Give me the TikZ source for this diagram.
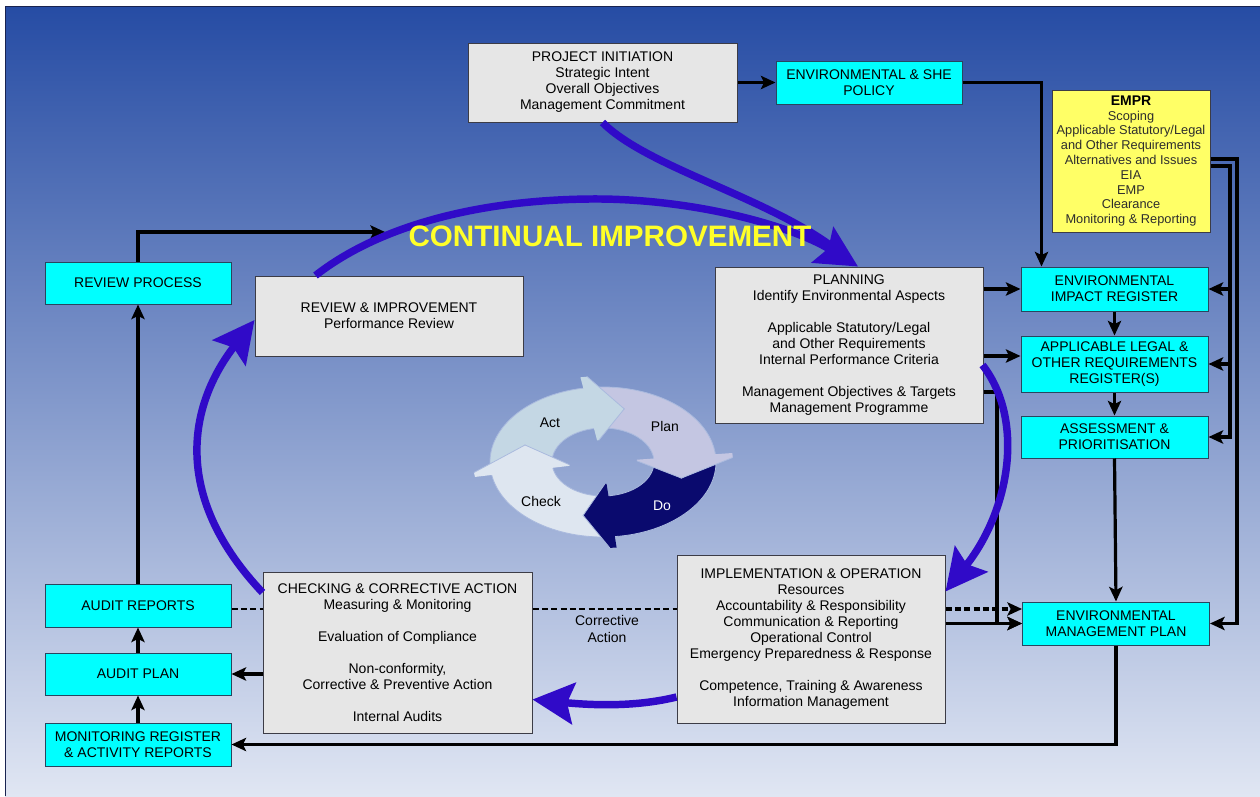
\documentclass[tikz,border=0pt]{standalone}
\usepackage{fontspec}
\setmainfont{Liberation Sans}
\usetikzlibrary{arrows.meta,calc}

\definecolor{bgtop}{RGB}{38,76,164}
\definecolor{bgmid}{RGB}{125,148,202}
\definecolor{bgbot}{RGB}{224,230,243}
\definecolor{boxgray}{RGB}{230,230,230}
\definecolor{boxline}{RGB}{60,60,70}
\definecolor{boxcyan}{RGB}{0,255,255}
\definecolor{cyanline}{RGB}{40,70,95}
\definecolor{emprfill}{RGB}{255,255,102}
\definecolor{emprtext}{RGB}{45,45,45}
\definecolor{cycblue}{RGB}{48,10,200}
\definecolor{ciyellow}{RGB}{255,255,40}
\definecolor{actcol}{RGB}{196,215,228}
\definecolor{plancol}{RGB}{196,198,226}
\definecolor{docol}{RGB}{10,10,110}
\definecolor{checkcol}{RGB}{222,230,240}
\definecolor{cycedge}{RGB}{170,186,222}

\tikzset{every picture/.style={line width=0.75pt}}
\tikzset{
  boxdim/.style 2 args={minimum width={#1*0.75pt}, minimum height={#2*0.75pt}},
  graybox/.style={draw=boxline, fill=boxgray, align=center, inner sep=0pt, text=black,
    font=\fontsize{10.5}{12}\selectfont},
  cyanbox/.style={graybox, draw=cyanline, fill=boxcyan},
  conn/.style={line width=2.4pt, -{Stealth[length=11pt,width=10pt,inset=2.5pt]}},
  dashline/.style={line width=2.2pt, dash pattern=on 4.5pt off 2.5pt},
  cycarrow/.style={draw=cycblue, line width=5.6pt, -{Stealth[length=31pt,width=31pt,inset=5pt]}},
  cyclbl/.style={font=\fontsize{10.5}{12}\selectfont, inner sep=0pt},
}

\begin{document}
\begin{tikzpicture}[x=0.75pt,y=0.75pt,yscale=-1]
\useasboundingbox (0,0) rectangle (1260,796);

% background
\shade [top color=bgtop, middle color=bgmid, bottom color=bgbot] (5,6) rectangle (1260,796);
\draw [draw={rgb,255:red,25;green,35;blue,80}] (5,796) -- (5,6) -- (1260,6);

% PDCA wheel: bodies first, heads on top
\begin{scope}[shift={(603,462)}, yscale=-1]
\foreach \a/\b/\p/\c in {187/97/162/actcol, 97/3/75/plancol, 3/-87/-17/docol, -87/-173/-104/checkcol}
  \filldraw [fill=\c, draw=cycedge, line width=0.6pt] (\a:113 and 75) arc[start angle=\a, end angle=\b, x radius=113, y radius=75]
    -- (\b:51 and 34) arc[start angle=\b, end angle=\a, x radius=51, y radius=34] -- (\p:82 and 55) -- cycle;
\foreach \b/\t/\c in {97/75/actcol, 3/-17/plancol, -87/-104/docol, -173/-198/checkcol} {
  \fill [\c] ({\b+3}:130 and 86) -- (\b:130 and 86) -- (\t:82 and 55) -- (\b:34 and 22) -- ({\b+3}:34 and 22) -- cycle;
  \draw [cycedge, line width=0.6pt] (\b:130 and 86) -- (\t:82 and 55) -- (\b:34 and 22);
}
\end{scope}
\node [cyclbl] (actlbl) at (550,423) {Act};
\node [cyclbl] (planlbl) at (665,426) {Plan};
\node [cyclbl] (checklbl) at (541,501) {Check};
\node [cyclbl, text=white] (dolbl) at (662,506) {Do};

% boxes
\node [graybox, boxdim={269}{79}] (pi) at (602.5,82.5) {PROJECT INITIATION\\Strategic Intent\\Overall Objectives\\Management Commitment};
\node [cyanbox, boxdim={186}{43}] (policy) at (869,82.5) {ENVIRONMENTAL \& SHE\\POLICY};
\node [graybox, draw=boxline, fill=emprfill, text=emprtext, boxdim={158}{142}, font=\fontsize{9.6}{11.1}\selectfont] (empr) at (1131,161)
  {{\fontsize{10.5}{11.1}\selectfont\bfseries\color{black} EMPR}\\Scoping\\Applicable Statutory/Legal\\and Other Requirements\\Alternatives and Issues\\EIA\\EMP\\Clearance\\Monitoring \& Reporting};
\node [cyanbox, boxdim={187}{44}] (eir) at (1114.5,289) {ENVIRONMENTAL\\IMPACT REGISTER};
\node [cyanbox, boxdim={187}{56}] (alr) at (1114.5,364) {APPLICABLE LEGAL \&\\OTHER REQUIREMENTS\\REGISTER(S)};
\node [cyanbox, boxdim={187}{42}] (asp) at (1114.5,437) {ASSESSMENT \&\\PRIORITISATION};
\node [cyanbox, boxdim={187}{43}] (emp) at (1116,623.5) {ENVIRONMENTAL\\MANAGEMENT PLAN};
\node [graybox, boxdim={268}{156}] (plan) at (849,345)
  {PLANNING\\Identify Environmental Aspects\\[12pt]Applicable Statutory/Legal\\and Other Requirements\\Internal Performance Criteria\\[12pt]Management Objectives \& Targets\\Management Programme};
\node [graybox, boxdim={268}{168}] (impl) at (811,639)
  {IMPLEMENTATION \& OPERATION\\Resources\\Accountability \& Responsibility\\Communication \& Reporting\\Operational Control\\Emergency Preparedness \& Response\\[12pt]Competence, Training \& Awareness\\Information Management};
\node [graybox, boxdim={269}{161}] (check) at (397.5,652.5)
  {CHECKING \& CORRECTIVE ACTION\\Measuring \& Monitoring\\[12pt]Evaluation of Compliance\\[12pt]Non-conformity,\\Corrective \& Preventive Action\\[12pt]Internal Audits};
\node [graybox, boxdim={268}{80}] (rimp) at (389,316) {REVIEW \& IMPROVEMENT\\Performance Review};
\node [cyanbox, boxdim={186}{42}] (rp) at (138,283) {REVIEW PROCESS};
\node [cyanbox, boxdim={186}{43}] (ar) at (138,605.5) {AUDIT REPORTS};
\node [cyanbox, boxdim={186}{42}] (apl) at (138,674) {AUDIT PLAN};
\node [cyanbox, boxdim={186}{43}] (mr) at (138,744.5) {MONITORING REGISTER\\\& ACTIVITY REPORTS};

\coordinate (dashy) at (0,609);
\coordinate (ciarrow) at (385,232);
\coordinate (busout) at (1237,0);
\coordinate (busin) at (1230,0);

% black connectors
\draw [conn] (pi.east) -- (policy.west);
\draw [conn] (policy.east) -| ($(eir.north west)+(21,0)$);
\draw [conn] (plan.east |- eir.west) -- (eir.west);
\draw [conn] ($(plan.east)+(0,11)$) -- ($(alr.west)+(0,-8)$);
\draw [conn] ($(plan.east)+(0,47)$) -| ($(emp.west)+(-25,0)$) -- (emp.west);
\draw [conn] (impl.east |- emp.west) -- (emp.west);
\draw [conn, dash pattern=on 4.5pt off 2.5pt] (impl.east |- dashy) -- (emp.west |- dashy);
\draw [dashline] (ar.east |- dashy) -- (check.west |- dashy);
\draw [dashline] (check.east |- dashy) -- (impl.west |- dashy);
\draw [conn] (eir.south) -- (alr.north);
\draw [conn] (alr.south) -- (asp.north);
\draw [conn] (asp.south) -- (emp.north);
\draw [conn] ($(empr.east)+(0,-2)$) -| (busout |- emp.east) -- (emp.east);
\draw [conn] ($(empr.east)+(0,5)$) -| (busin |- asp.east) -- (asp.east);
\draw [conn] (busin |- eir.east) -- (eir.east);
\draw [conn] (busin |- alr.east) -- (alr.east);
\draw [conn] (emp.south) |- (mr.east);
\draw [conn] (check.west |- apl.east) -- (apl.east);
\draw [conn] (mr.north) -- (apl.south);
\draw [conn] (apl.north) -- (ar.south);
\draw [conn] (ar.north) -- (rp.south);
\draw [conn] (rp.north) |- (ciarrow);

\node [cyclbl, align=center, font=\fontsize{10.5}{12.75}\selectfont] (calbl) at (607,628.5) {Corrective\\Action};

% continual improvement loop
\draw [draw=cycblue, line width=5.6pt] (pi.south) .. controls (650,170) and (780,200) .. (845,257);
\draw [cycarrow] ($(rimp.north west)+(61,0)$) .. controls (380,225) and (480,200) .. (590,199)
  .. controls (690,198) and (790,225) .. ($(plan.north)+(9,0)$);
\draw [cycarrow] ($(plan.east)+(-1,20)$) .. controls (1025,420) and (1010,510) .. ($(impl.north east)+(0,37)$);
\draw [cycarrow] ($(impl.west)+(0,58)$) .. controls (640,706) and (600,706) .. ($(check.east)+(0,47)$);
\draw [cycarrow] ($(check.north west)+(0,21)$) .. controls (175,500) and (185,410) .. ($(rimp.west)+(0,4)$);

\node [text=ciyellow, inner sep=0pt, font=\fontsize{22.2}{24}\selectfont\bfseries] (cilbl) at (610,236) {CONTINUAL IMPROVEMENT};

\end{tikzpicture}
\end{document}
